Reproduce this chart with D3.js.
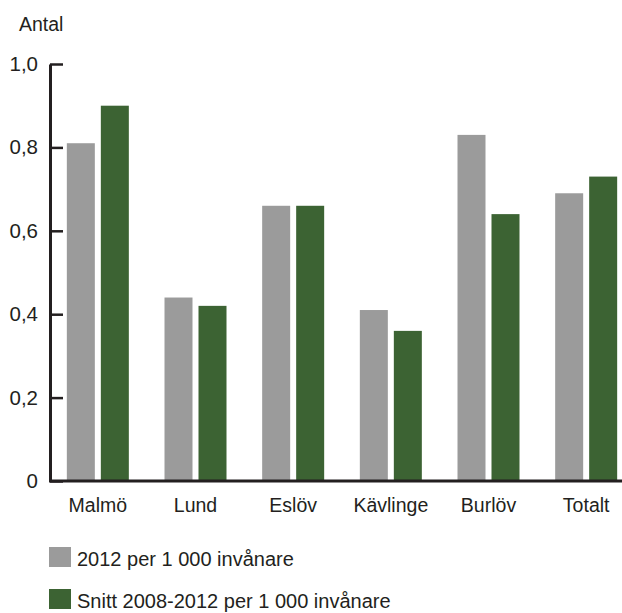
<!DOCTYPE html>
<html>
<head>
<meta charset="utf-8">
<script src="https://cdn.jsdelivr.net/npm/d3@7"></script>
<style>
  body { margin: 0; background: #fff; }
  text { font-family: "Liberation Sans", Arial, sans-serif; fill: #231f20; }
</style>
</head>
<body>
<div id="chart"></div>
<script>
// data
var categories = ["Malmö", "Lund", "Eslöv", "Kävlinge", "Burlöv", "Totalt"];
var seriesNames = ["2012 per 1 000 invånare", "Snitt 2008-2012 per 1 000 invånare"];
var values2012 = [0.81, 0.44, 0.66, 0.41, 0.83, 0.69];
var valuesAvg = [0.90, 0.42, 0.66, 0.36, 0.64, 0.73];
var tickValues = [0, 0.2, 0.4, 0.6, 0.8, 1.0];
var tickLabels = ["0", "0,2", "0,4", "0,6", "0,8", "1,0"];
var colors = ["#9b9b9b", "#3c6333"];

var width = 622;
var height = 613;

var svg = d3.select("#chart")
    .append("svg")
    .attr("width", width)
    .attr("height", height);

// scales
var y = d3.scaleLinear()
    .domain([0, 1])
    .range([481, 64]);

var x0 = d3.scaleBand()
    .domain(categories)
    .range([49, 635]);

var x1 = d3.scaleBand()
    .domain(seriesNames)
    .range([0, 62])
    .paddingInner(6 / 34);

// rows for the grouped bars
var rows = categories.map(function (c, i) {
    return { cat: c, vals: [values2012[i], valuesAvg[i]] };
});

// bars
var groups = svg.selectAll(".grp")
    .data(rows)
    .enter()
    .append("g")
    .attr("class", "grp")
    .attr("transform", function (d) {
        return "translate(" + (x0(d.cat) + (x0.bandwidth() - 62) / 2) + ",0)";
    });

groups.selectAll("rect")
    .data(function (d) {
        return d.vals.map(function (v, j) { return { key: seriesNames[j], value: v, j: j }; });
    })
    .enter()
    .append("rect")
    .attr("x", function (d) { return x1(d.key); })
    .attr("y", function (d) { return y(d.value); })
    .attr("width", x1.bandwidth())
    .attr("height", function (d) { return y(0) - y(d.value); })
    .style("fill", function (d) { return colors[d.j]; });

// y axis, ticks pointing inwards
var yAxis = svg.append("g")
    .attr("transform", "translate(50,0)")
    .call(d3.axisLeft(y)
        .tickValues(tickValues)
        .tickFormat(function (d, i) { return tickLabels[i]; })
        .tickSizeInner(-13)
        .tickSizeOuter(0)
        .tickPadding(12));

yAxis.select(".domain").attr("stroke", "#231f20").attr("stroke-width", 3);
yAxis.selectAll(".tick line").attr("stroke", "#231f20").attr("stroke-width", 2.5);
yAxis.selectAll(".tick text")
    .style("font-size", "20.5px")
    .attr("fill", "#231f20");

// baseline
svg.append("line")
    .attr("x1", 49)
    .attr("x2", width)
    .attr("y1", y(0))
    .attr("y2", y(0))
    .attr("stroke", "#231f20")
    .attr("stroke-width", 3);

// category labels
var xAxis = svg.append("g")
    .attr("transform", "translate(0," + y(0) + ")")
    .call(d3.axisBottom(x0).tickSize(0).tickPadding(17));

xAxis.select(".domain").remove();
xAxis.selectAll(".tick text")
    .style("font-size", "19.5px")
    .attr("fill", "#231f20");

// unit label
svg.append("text")
    .attr("x", 19)
    .attr("y", 31)
    .style("font-size", "19.5px")
    .text("Antal");

// legend
var legendY = [547, 589];
var legend = svg.selectAll(".legend")
    .data(seriesNames)
    .enter()
    .append("g")
    .attr("class", "legend");

legend.append("rect")
    .attr("x", 49)
    .attr("y", function (d, i) { return legendY[i]; })
    .attr("width", 22)
    .attr("height", 20)
    .style("fill", function (d, i) { return colors[i]; });

legend.append("text")
    .attr("x", 77)
    .attr("y", function (d, i) { return legendY[i] + 19; })
    .style("font-size", "20px")
    .text(function (d) { return d; });
</script>
</body>
</html>
